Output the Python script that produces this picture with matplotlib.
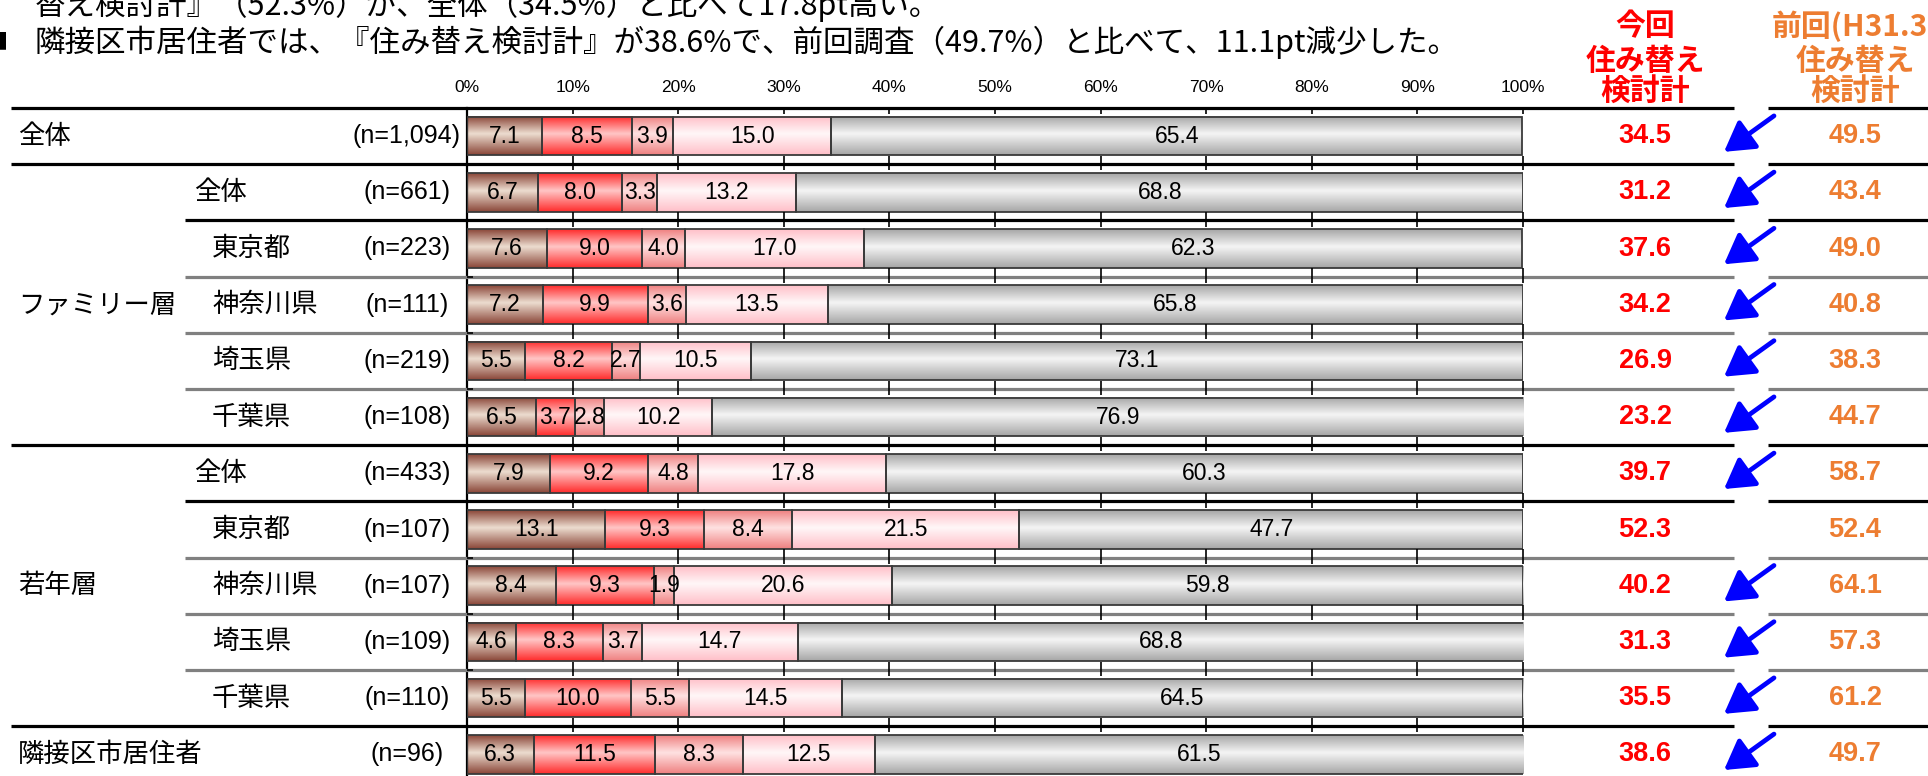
import numpy as np
import matplotlib
matplotlib.use('Agg')
import matplotlib.pyplot as plt
from matplotlib.colors import LinearSegmentedColormap
from matplotlib.transforms import blended_transform_factory

JP = ['Noto Sans CJK JP', 'DejaVu Sans']
NUM = ['Liberation Sans', 'Noto Sans CJK JP', 'DejaVu Sans']
plt.rcParams['font.family'] = JP

# ---------------- data ----------------
title_line1 = '替え検討計』（52.3%）が、全体（34.5%）と比べて17.8pt高い。'
title_line2 = '隣接区市居住者では、『住み替え検討計』が38.6%で、前回調査（49.7%）と比べて、11.1pt減少した。'

group_labels = ['全体', 'ファミリー層', '若年層', '隣接区市居住者']
group_rows = [[0], [1, 2, 3, 4, 5], [6, 7, 8, 9, 10], [11]]
sub_labels = ['', '全体', '東京都', '神奈川県', '埼玉県', '千葉県',
              '全体', '東京都', '神奈川県', '埼玉県', '千葉県', '']
n_labels = ['(n=1,094)', '(n=661)', '(n=223)', '(n=111)', '(n=219)', '(n=108)',
            '(n=433)', '(n=107)', '(n=107)', '(n=109)', '(n=110)', '(n=96)']

seg1 = [7.1, 6.7, 7.6, 7.2, 5.5, 6.5, 7.9, 13.1, 8.4, 4.6, 5.5, 6.3]
seg2 = [8.5, 8.0, 9.0, 9.9, 8.2, 3.7, 9.2, 9.3, 9.3, 8.3, 10.0, 11.5]
seg3 = [3.9, 3.3, 4.0, 3.6, 2.7, 2.8, 4.8, 8.4, 1.9, 3.7, 5.5, 8.3]
seg4 = [15.0, 13.2, 17.0, 13.5, 10.5, 10.2, 17.8, 21.5, 20.6, 14.7, 14.5, 12.5]
seg5 = [65.4, 68.8, 62.3, 65.8, 73.1, 76.9, 60.3, 47.7, 59.8, 68.8, 64.5, 61.5]

current = [34.5, 31.2, 37.6, 34.2, 26.9, 23.2, 39.7, 52.3, 40.2, 31.3, 35.5, 38.6]
previous = [49.5, 43.4, 49.0, 40.8, 38.3, 44.7, 58.7, 52.4, 64.1, 57.3, 61.2, 49.7]
down_arrow = [True, True, True, True, True, True, True, False, True, True, True, True]

x_ticks = [0, 10, 20, 30, 40, 50, 60, 70, 80, 90, 100]
x_tick_labels = ['0%', '10%', '20%', '30%', '40%', '50%', '60%', '70%', '80%', '90%', '100%']

header_current = ['今回', '住み替え', '検討計']
header_previous = ['前回(H31.3)', '住み替え', '検討計']

# ---------------- styles ----------------
seg_edges = ['#8A4638', '#FF2B2B', '#EF8080', '#FFBFC8', '#A6A6A6']
seg_mids = ['#EDDDD0', '#FFC6C6', '#FFE2E2', '#FFF7F8', '#F5F5F5']

W, H = 1928, 776
fig = plt.figure(figsize=(W / 100, H / 100), dpi=100)


def fx(px):
    return px / W


def fy(py):
    return 1 - py / H


top_px = 108
row_px = 56.2
ax = fig.add_axes([fx(467), 0, fx(1523) - fx(467), 1 - top_px / H])
trans = blended_transform_factory(fig.transFigure, ax.transData)

n = len(seg1)
rows = np.arange(n)
segments = [seg1, seg2, seg3, seg4, seg5]
grad = np.linspace(0, 1, 120).reshape(-1, 1)
left = np.zeros(n)
bar_h = 0.69
for k, seg in enumerate(segments):
    vals = np.array(seg)
    bars = ax.barh(rows, vals, left=left, height=bar_h, facecolor='none',
                   edgecolor='#3A3A3A', linewidth=1.3, zorder=3)
    cmap = LinearSegmentedColormap.from_list(
        f'seg{k}', [(0, seg_edges[k]), (0.45, seg_mids[k]), (1, seg_edges[k])])
    for p, v in zip(bars.patches, vals):
        x0, w = p.get_x(), p.get_width()
        y0, h = p.get_y(), p.get_height()
        ax.imshow(grad, cmap=cmap, extent=(x0, x0 + w, y0 + h, y0), origin='upper',
                  aspect='auto', interpolation='bicubic', zorder=2)
        ax.text(x0 + w / 2, y0 + h / 2, f'{v:.1f}', ha='center', va='center',
                fontsize=16.5, family=NUM, color='black', zorder=4)
    left = left + vals

ax.set_xlim(0, 100)
ax.set_ylim(-0.5 + (H - top_px) / row_px, -0.5)
for s in ['top', 'right', 'bottom']:
    ax.spines[s].set_visible(False)
ax.spines['left'].set_linewidth(1.6)
ax.spines['left'].set_color('black')
ax.set_yticks([])
ax.xaxis.set_ticks_position('top')
ax.set_xticks(x_ticks)
ax.set_xticklabels(x_tick_labels, family=['Liberation Sans Narrow', 'Liberation Sans'])
ax.tick_params(axis='x', direction='in', length=0, pad=9, labelsize=12.5)

# row separators
boundaries = np.arange(-0.5, n - 0.5, 1.0)
black_full = {-0.5, 0.5, 5.5, 10.5}
black_sub = {1.5, 6.5}
for b in boundaries:
    if b in black_full:
        color, start = 'black', 11
    elif b in black_sub:
        color, start = 'black', 185
    else:
        color, start = '#808080', 185
    ax.plot([fx(start), fx(1734)], [b, b], transform=trans, color=color, lw=2.3,
            clip_on=False, zorder=5, solid_capstyle='butt')
    ax.plot([fx(1768), 1.0], [b, b], transform=trans, color=color, lw=2.3,
            clip_on=False, zorder=5, solid_capstyle='butt')
    y_top = b if b == -0.5 else b - 0.15
    ax.vlines(x_ticks[1:], y_top, b + 0.11, color='black', lw=1.2, zorder=6, clip_on=False)
    ax.hlines(b, 0, 0.6, color='black', lw=1.2, zorder=6)

# left labels
for lab, rs in zip(group_labels, group_rows):
    ax.text(fx(18), np.mean(rs), lab, transform=trans, ha='left', va='center',
            fontsize=19, family=JP)
for i, lab in enumerate(sub_labels):
    if lab:
        xpos = 194 if lab == '全体' else 212
        ax.text(fx(xpos), i, lab, transform=trans, ha='left', va='center',
                fontsize=19, family=JP)
for i, lab in enumerate(n_labels):
    ax.text(fx(407), i, lab, transform=trans, ha='center', va='center',
            fontsize=18, family=NUM)

# right columns
for i in range(n):
    ax.text(fx(1645), i, f'{current[i]:.1f}', transform=trans, ha='center', va='center',
            fontsize=19.5, fontweight='bold', color='#FF0000', family=NUM)
    ax.text(fx(1855), i, f'{previous[i]:.1f}', transform=trans, ha='center', va='center',
            fontsize=19.5, fontweight='bold', color='#ED7D31', family=NUM)
    if down_arrow[i]:
        ax.annotate('', xy=(fx(1724), i + 0.28), xytext=(fx(1774), i - 0.36),
                    xycoords=trans, textcoords=trans, annotation_clip=False,
                    arrowprops=dict(arrowstyle='-|>,head_length=0.85,head_width=0.5',
                                    color='#0000FF', lw=3.4, shrinkA=0, shrinkB=0,
                                    mutation_scale=21))

header_y = [26, 61, 91]
for t, yy in zip(header_current, header_y):
    fig.text(fx(1645), fy(yy), t, ha='center', va='center', fontsize=21.5,
             fontweight='bold', color='#FF0000', family=JP)
for t, yy in zip(header_previous, header_y):
    fig.text(fx(1855), fy(yy), t, ha='center', va='center', fontsize=21.5,
             fontweight='bold', color='#ED7D31', family=JP)

# title text (top, partially cut off as in the source)
fig.text(fx(35), fy(5), title_line1, ha='left', va='center', fontsize=22, family=JP)
fig.text(fx(35), fy(42), title_line2, ha='left', va='center', fontsize=22, family=JP)
fig.text(fx(8), fy(42), '■', ha='right', va='center', fontsize=16, family=JP)

fig.savefig('out.png', dpi=100)
